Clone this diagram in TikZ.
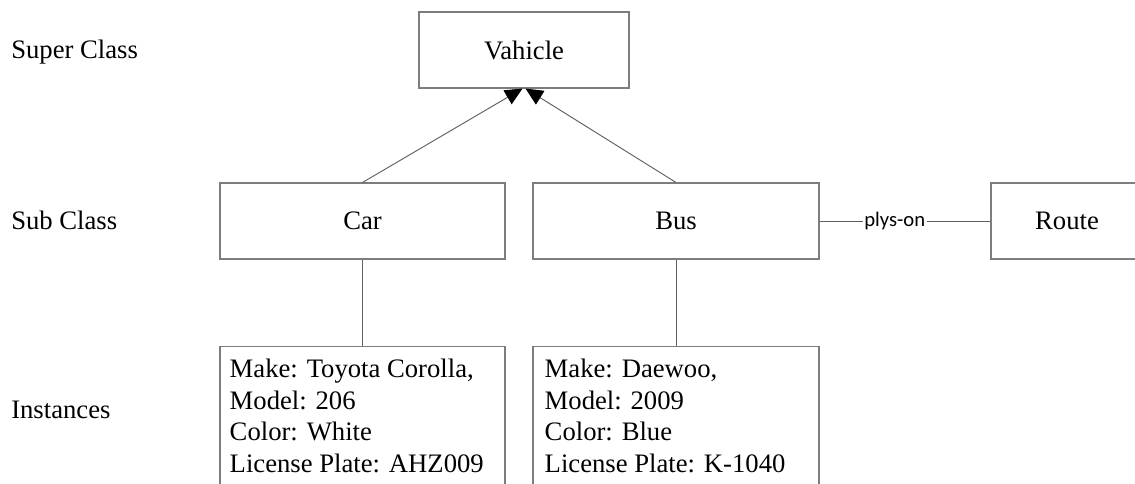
\documentclass[tikz,border=0pt]{standalone}
\usepackage{fontspec}
\setmainfont{Liberation Serif}
\newfontfamily\labelfont{Carlito}
\usetikzlibrary{arrows.meta,calc}
\definecolor{boxgray}{RGB}{125,125,125}
\definecolor{linegray}{RGB}{95,95,95}
\begin{document}
\begin{tikzpicture}[x=0.75pt,y=-0.75pt,
  cls/.style={draw=boxgray, line width=0.8pt, rectangle, inner sep=0pt, minimum height=57pt, font=\fontsize{20}{24}\selectfont},
  inst/.style={draw=boxgray, line width=0.8pt, rectangle, inner sep=0pt, minimum width=213.75pt, minimum height=118.5pt},
  itext/.style={inner sep=0pt, align=left, font=\fontsize{20}{23.6}\selectfont, anchor=north west},
  lvl/.style={inner sep=0pt, anchor=west, font=\fontsize{20}{24}\selectfont},
  conn/.style={draw=linegray, line width=0.7pt},
  gen/.style={conn, -{Triangle[length=13pt,width=12pt,color=black]}},
  rel/.style={fill=white, inner sep=1pt, font=\labelfont\fontsize{15.5}{18}\selectfont}
]
\useasboundingbox (0,0) rectangle (1135,483);
\clip (0,0) rectangle (1135,483);

% level labels
\node[lvl] (lsuper) at (11,52) {Super Class};
\node[lvl] (lsub) at (11,220) {Sub Class};
\node[lvl] (linst) at (11,410) {Instances};

% classes
\node[cls, minimum width=157.5pt] (veh) at (524,50) {Vahicle};
\node[cls, minimum width=213.75pt] (car) at (362.5,221) {Car};
\node[cls, minimum width=214.5pt] (bus) at (676,221) {Bus};
\node[cls, minimum width=114pt] (route) at (1067,221) {Route};

% instances
\node[inst] (carinst) at (362.5,425.5) {};
\node[inst, minimum width=214.5pt] (businst) at (676,425.5) {};
\node[itext] (cartext) at ($(carinst.north west)+(10,13)$) {Make: Toyota Corolla,\\Model: 206\\Color: White\\License Plate: AHZ009};
\node[itext] (bustext) at ($(businst.north west)+(12,13)$) {Make: Daewoo,\\Model: 2009\\Color: Blue\\License Plate: K-1040};

% connectors
\draw[gen] (car.north) -- ($(veh.south)+(-1.5,0)$);
\draw[gen] (bus.north) -- ($(veh.south)+(1.5,0)$);
\draw[conn] (car.south) -- (carinst.north);
\draw[conn] (bus.south) -- (businst.north);
\draw[conn] (bus.east) -- node[rel, pos=0.44] (plys) {plys-on} (route.west);
\end{tikzpicture}
\end{document}
